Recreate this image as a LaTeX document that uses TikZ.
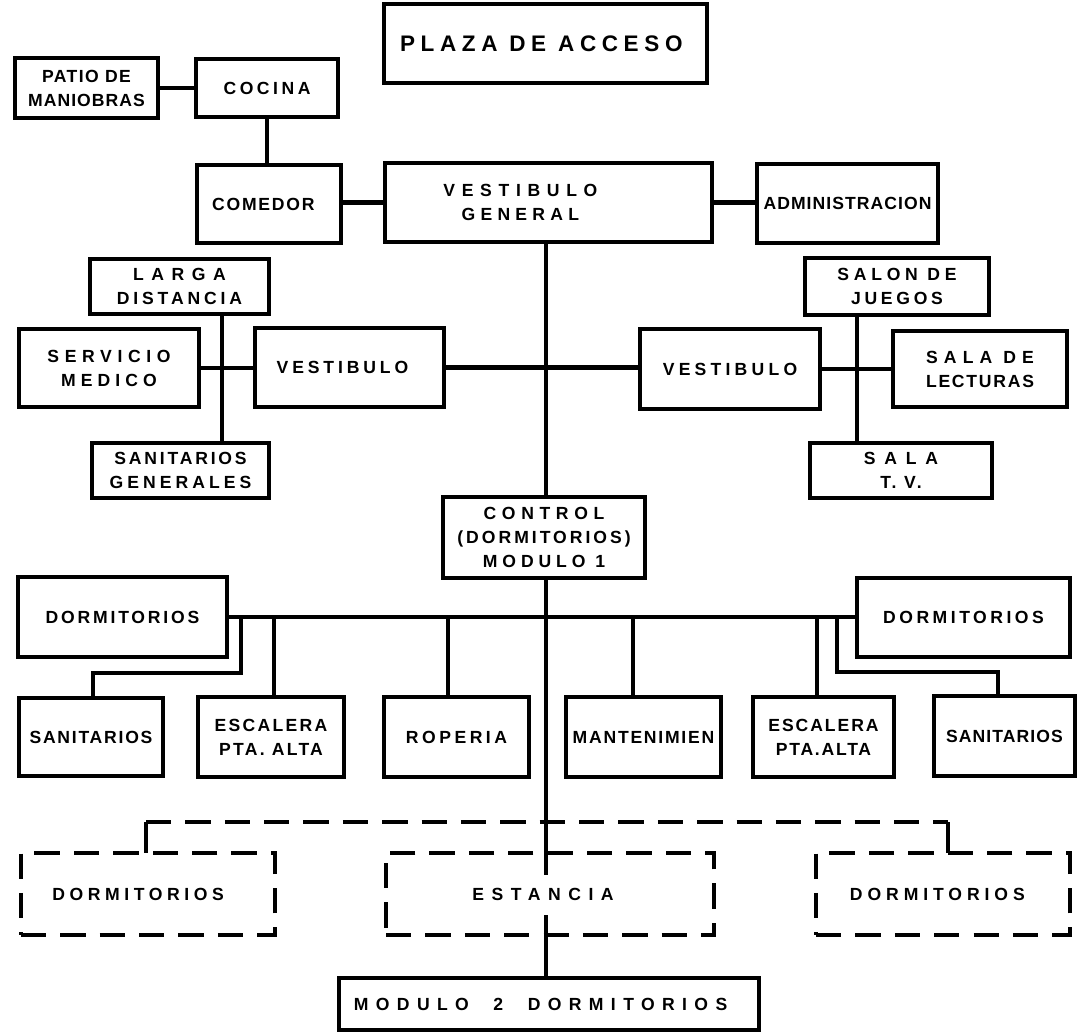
\documentclass[tikz,border=0pt]{standalone}
\usepackage{fontspec}
\setmainfont{Liberation Sans}
\newcommand\ls[1]{\addfontfeature{LetterSpace=#1}}
\newcommand\tsh[1]{\rule{#1pt}{0pt}}
\tikzset{
  box/.style={draw, line width=3pt, inner sep=0pt, outer sep=0pt, align=center,
    font=\fontsize{12.5}{17}\selectfont\bfseries},
  dbox/.style={box, dash pattern=on 18pt off 10pt},
  conn/.style={line width=3pt},
  dconn/.style={line width=3pt, dash pattern=on 18pt off 10pt}
}
\newcommand\bx[6]{\node[box, minimum width={(#4-#2)*0.025cm}, minimum height={(#5-#3)*0.025cm}] (#1) at ({(#2+#4)/2},{(#3+#5)/2}) {#6};}
\newcommand\dbx[6]{\node[dbox, minimum width={(#4-#2)*0.025cm}, minimum height={(#5-#3)*0.025cm}] (#1) at ({(#2+#4)/2},{(#3+#5)/2}) {#6};}
\begin{document}
\begin{tikzpicture}[x=0.025cm, y=-0.025cm]
\useasboundingbox (0,0) rectangle (1078,1033);
\fill[white] (0,0) rectangle (1078,1033);

% top area
\bx{plaza}{384}{4}{707}{83}{\fontsize{16}{18}\selectfont\ls{25}PLAZA\ DE\ ACCESO\tsh{6}}
\bx{patio}{15}{58}{158}{118}{\fontsize{12.5}{14}\selectfont{\ls{8}PATIO DE}\\{\ls{6}MANIOBRAS}}
\bx{cocina}{196}{59}{338}{117}{\ls{20}COCINA}
\bx{comedor}{197}{165}{341}{243}{\ls{10}COMEDOR\tsh{8}}
\bx{vg}{385}{163}{712}{242}{{\ls{38}VESTIBULO\tsh{40}}\\{\ls{30}GENERAL\tsh{40}}}
\bx{admin}{757}{164}{938}{243}{\ls{6}ADMINISTRACION}

% middle area
\bx{larga}{90}{259}{269}{314}{{\ls{43}LARGA}\\{\ls{22}DISTANCIA}}
\bx{servicio}{19}{329}{199}{407}{{\ls{32}SERVICIO}\\{\ls{29}MEDICO}}
\bx{vestL}{255}{328}{444}{407}{\ls{22}VESTIBULO\tsh{10}}
\bx{sangen}{92}{443}{269}{498}{{\ls{16}SANITARIOS}\\{\ls{23}GENERALES}}
\bx{vestR}{640}{329}{820}{409}{\ls{24}VESTIBULO}
\bx{salon}{805}{258}{989}{315}{{\ls{27}SALON DE}\\{\ls{21}JUEGOS}}
\bx{lecturas}{893}{331}{1067}{407}{{\ls{35}SALA DE}\\{\ls{10}LECTURAS}}
\bx{tv}{810}{443}{992}{498}{{\ls{50}SALA}\\{\ls{15}T. V.}}
\bx{control}{443}{497}{645}{578}{{\ls{32}CONTROL}\\{\ls{17}(DORMITORIOS)}\\{\ls{28}MODULO 1}}

% lower area
\bx{dormL}{18}{577}{227}{657}{\ls{16}DORMITORIOS}
\bx{dormR}{857}{578}{1070}{657}{\ls{20}DORMITORIOS}
\bx{sanL}{19}{698}{163}{776}{\ls{10}SANITARIOS}
\bx{escL}{198}{697}{344}{777}{{\ls{13}ESCALERA}\\{\ls{13}PTA. ALTA}}
\bx{roperia}{384}{697}{529}{777}{\ls{20}ROPERIA}
\bx{mant}{566}{697}{721}{777}{\ls{10}MANTENIMIEN}
\bx{escR}{753}{697}{894}{777}{{\ls{11}ESCALERA}\\{\ls{10}PTA.ALTA}}
\bx{sanR}{934}{696}{1075}{776}{\ls{6}SANITARIOS}

\dbx{dormDL}{21}{853}{275}{935}{\ls{26}DORMITORIOS\tsh{14}}
\dbx{estancia}{386}{853}{714}{935}{\ls{43}ESTANCIA\tsh{10}}
\dbx{dormDR}{816}{853}{1070}{935}{\ls{28}DORMITORIOS\tsh{8}}
\bx{modulo}{339}{978}{759}{1030}{\ls{42}MODULO\ \ 2\ \ DORMITORIOS\tsh{12}}

% coordinates
\coordinate (mx) at (546,0);
\coordinate (lx) at (222,0);
\coordinate (rx) at (857,0);
\coordinate (dA) at (241,617);
\coordinate (kA) at (93,673);
\coordinate (dB) at (274,617);
\coordinate (dC) at (448,617);
\coordinate (dD) at (633,617);
\coordinate (dE) at (817,617);
\coordinate (dF) at (837,617);
\coordinate (kF) at (998,672);
\coordinate (tL) at (146,822);
\coordinate (tR) at (948,822);
\coordinate (e1) at (546,875);
\coordinate (e2) at (546,915);

% connectors
\draw[conn] (patio) -- (cocina);
\draw[conn] (cocina.south) -- (cocina.south |- comedor.north);
\draw[conn] (vg.west) -- (vg.west -| comedor.east);
\draw[conn] (vg.east) -- (vg.east -| admin.west);
\draw[conn] (vg.south -| mx) -- (control.north -| mx);
\draw[conn] (vestL.east) -- (vestL.east -| vestR.west);
\draw[conn] (larga.south -| lx) -- (sangen.north -| lx);
\draw[conn] (servicio.east) -- (servicio.east -| vestL.west);
\draw[conn] (salon.south -| rx) -- (tv.north -| rx);
\draw[conn] (vestR.east) -- (vestR.east -| lecturas.west);

\draw[conn] (control.south -| mx) -- (e1);
\draw[conn] (e2) -- (modulo.north -| mx);
\draw[conn] (dormL.east) -- (dormL.east -| dormR.west);
\draw[conn] (dA) |- (kA) -- (kA |- sanL.north);
\draw[conn] (dB) -- (dB |- escL.north);
\draw[conn] (dC) -- (dC |- roperia.north);
\draw[conn] (dD) -- (dD |- mant.north);
\draw[conn] (dE) -- (dE |- escR.north);
\draw[conn] (dF) |- (kF) -- (kF |- sanR.north);

\draw[dconn] (tL) -- (tR);
\draw[conn] (tL) -- (tL |- dormDL.north);
\draw[conn] (tR) -- (tR |- dormDR.north);
\end{tikzpicture}
\end{document}
